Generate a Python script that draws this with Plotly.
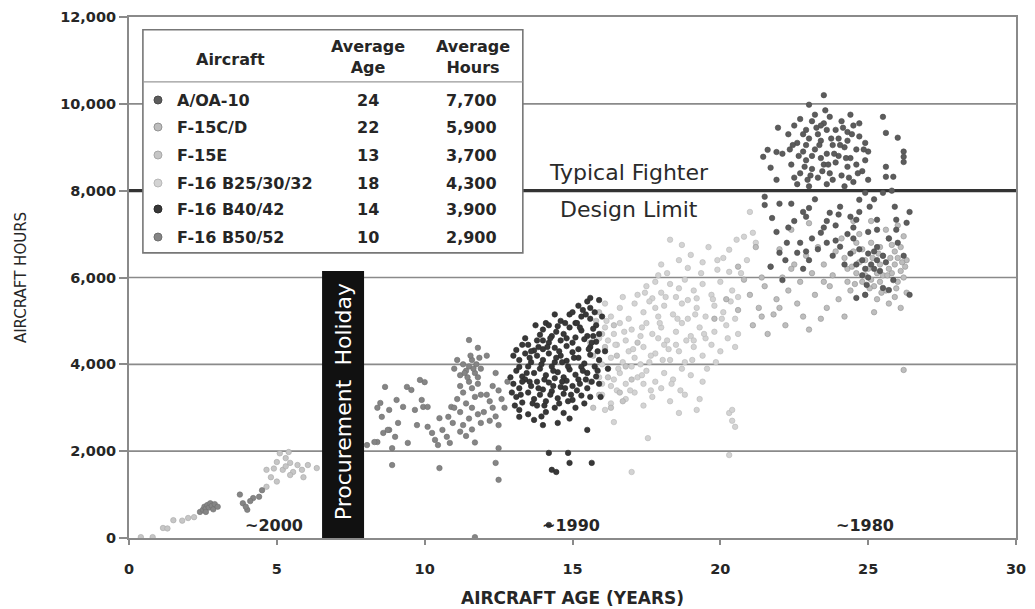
import plotly.graph_objects as go

# ---------------- data ----------------
AXIS_X_TICKS = [0, 5, 10, 15, 20, 25, 30]
AXIS_Y_TICKS = [0, 2000, 4000, 6000, 8000, 10000, 12000]
GRID_HOURS = [2000, 4000, 6000, 10000]
DESIGN_LIMIT = 8000

TABLE_AIRCRAFT = ["A/OA-10", "F-15C/D", "F-15E", "F-16 B25/30/32", "F-16 B40/42", "F-16 B50/52"]
TABLE_AGE = [24, 22, 13, 18, 14, 10]
TABLE_HOURS = [7700, 5900, 3700, 4300, 3900, 2900]

ERA_LABELS = ["~2000", "~1990", "~1980"]
ERA_AGES = [4.9, 14.95, 24.9]

A10_POINTS = [
    (23.5, 10200), (23.0, 9980), (25.5, 9700), (25.6, 9330), (26.0, 9220), (26.2, 8900), (26.2, 8780),
    (26.2, 8660), (21.45, 8780), (21.6, 8940), (21.9, 8890), (21.7, 8530), (21.9, 8250), (21.95, 9450),
    (25.6, 8550), (25.6, 8320), (25.85, 8320),
    (22.5, 9500), (22.7, 9650), (22.9, 9400), (23.1, 9600), (23.3, 9300), (23.5, 9550), (23.7, 9700),
    (23.9, 9400), (24.1, 9600), (24.3, 9350), (24.5, 9500), (24.7, 9250), (22.6, 9100), (22.8, 8900),
    (23.0, 9200), (23.2, 8950), (23.4, 9150), (23.6, 8850), (23.8, 9050), (24.0, 8800), (24.2, 9000),
    (24.4, 8750), (24.6, 8950), (24.9, 8700), (22.4, 8600), (22.7, 8400), (22.9, 8700), (23.1, 8500),
    (23.3, 8300), (23.5, 8600), (23.7, 8400), (23.9, 8650), (24.1, 8350), (24.3, 8550), (24.5, 8200),
    (24.8, 8450), (25.0, 8250), (22.6, 8150), (23.0, 8100), (23.6, 8150), (24.2, 8100), (23.2, 9750),
    (24.9, 9100), (22.3, 9300), (22.1, 8850), (24.4, 9750), (25.0, 8900), (22.5, 8300), (23.4, 8750),
    (24.0, 9200), (22.9, 9050), (23.6, 9400), (24.6, 8600), (23.1, 8800), (23.8, 8250), (24.7, 9550),
    (22.8, 9300), (23.4, 9500), (24.3, 9150),
    (22.45, 9050), (22.65, 8800), (22.85, 8550), (23.05, 8350), (23.25, 9450), (23.45, 8450),
    (23.65, 8600), (23.85, 8850), (24.05, 9050), (24.25, 8750), (24.45, 9300), (24.65, 8400),
    (24.85, 8950), (23.35, 9050), (23.75, 9200), (22.95, 8250), (24.35, 8300), (24.15, 9450),
    (22.35, 8950), (23.55, 9850),
    (21.5, 7860), (21.5, 7670), (21.75, 7370), (22.8, 7510), (22.9, 7400), (23.7, 7490), (24.05, 7630),
    (24.7, 7790), (24.7, 7510), (24.6, 7330), (25.05, 7630), (25.9, 7630), (26.4, 7510), (26.3, 7260),
    (25.95, 7330), (25.95, 7100), (25.3, 7330), (25.3, 7100), (22.25, 6800), (22.7, 6800), (23.4, 7030),
    (23.6, 6800), (24.05, 6710), (22.0, 6570), (22.6, 6570), (21.7, 6250), (23.0, 6400), (24.95, 5830),
    (24.9, 5600), (25.7, 5710), (26.4, 5600), (25.5, 5760), (24.6, 5530), (22.1, 5940), (25.85, 5940),
    (24.7, 6650), (24.8, 6400), (24.9, 6200), (25.0, 6550), (25.1, 6300), (25.2, 6600), (25.3, 6400),
    (25.4, 6150), (25.5, 6500), (24.8, 6050), (25.0, 6000), (25.2, 6200), (25.6, 6350), (24.6, 6300),
    (25.3, 6700), (23.2, 7800), (22.4, 7700), (23.9, 7200), (24.3, 7000), (23.1, 6900), (22.3, 7150),
    (24.5, 6900), (23.8, 6500), (22.8, 6200), (24.2, 6300), (21.9, 7050), (25.7, 6900), (26.0, 6800),
    (26.2, 6500), (24.4, 7400), (23.3, 6650), (22.0, 7700), (25.2, 7800), (23.6, 7300), (25.5, 7950),
    (25.8, 8000), (24.9, 7950),
    (22.5, 7300), (23.0, 7600), (23.5, 7150), (24.0, 7450), (24.5, 7150), (25.0, 7050), (22.9, 6600),
    (23.9, 6850), (22.2, 6400), (24.4, 6550),
]

F15CD_POINTS = [
    (20.8, 5950), (21.0, 5600), (21.3, 5300), (21.5, 5800), (21.7, 6250), (21.9, 5500), (22.1, 6000),
    (22.3, 5700), (22.5, 6300), (22.7, 5900), (22.9, 6500), (23.1, 6100), (23.3, 6700), (23.5, 6300),
    (23.7, 5800), (23.9, 6600), (24.1, 6900), (24.3, 6200), (24.5, 6600), (24.7, 7000), (24.9, 6400),
    (25.1, 6800), (25.3, 6100), (25.5, 6500), (25.7, 6900), (25.9, 6300), (26.1, 6700), (26.2, 6000),
    (24.4, 5700), (24.8, 5900), (25.2, 5800), (25.6, 5700), (26.0, 5900), (24.6, 6100), (25.0, 6200),
    (25.4, 6300), (25.8, 6100), (26.3, 6400), (24.2, 6450), (25.6, 7100), (26.0, 7200), (25.1, 7300),
    (24.0, 5500), (23.6, 5300), (22.8, 5100), (22.2, 4900), (21.6, 4700), (21.1, 4900), (20.6, 5250),
    (20.2, 5500), (19.8, 5050), (23.2, 5600), (22.6, 5400), (21.8, 5150), (23.0, 4800), (24.2, 5100),
    (25.2, 5200), (25.7, 5400), (26.1, 5300), (26.2, 3870), (22.0, 6650), (22.4, 7100), (23.0, 7250),
    (21.2, 6700), (20.6, 6250), (24.8, 6650), (25.4, 6700), (25.9, 6600), (26.2, 6950), (24.5, 7300),
    (25.3, 5500), (24.9, 5600), (26.3, 5650), (25.5, 6050), (24.7, 6350), (25.9, 5550), (23.8, 6050),
    (23.4, 5050), (22.0, 5300), (21.4, 5100), (25.1, 5950), (25.7, 6200), (26.1, 6150), (24.3, 5900),
    (25.4, 5900), (24.6, 6800), (25.8, 6750), (26.0, 6450),
    (24.9, 6050), (25.35, 6550), (25.75, 6450), (26.15, 6350), (24.55, 5850), (25.05, 5750),
    (25.45, 5650), (25.95, 5750), (24.45, 6250), (25.65, 6050), (26.25, 6250), (25.15, 6450),
    (23.5, 5900), (22.4, 6200), (21.4, 6000),
]

F15E_POINTS = [
    (0.4, 20), (0.8, 20), (1.15, 230), (1.3, 220), (1.5, 410), (1.8, 400), (2.0, 460), (2.2, 480),
    (4.65, 1180), (4.8, 1400), (5.0, 1300), (4.65, 1570), (5.0, 1750), (5.2, 1570), (5.3, 1840),
    (5.4, 1980), (5.45, 1730), (5.55, 1520), (5.7, 1680), (5.85, 1570), (5.9, 1400), (6.05, 1680),
    (6.35, 1610), (5.45, 1450), (5.1, 1950), (5.3, 1650), (4.9, 1600),
    (15.6, 4500), (15.7, 4200), (15.8, 3900), (15.6, 3600), (15.9, 3300), (15.7, 3000), (16.2, 3700),
    (16.5, 4200), (16.0, 4700), (15.8, 5000), (16.3, 3000), (16.6, 3350), (15.5, 3800), (16.1, 4400),
    (16.8, 3950), (17.2, 4500), (15.9, 5200), (16.4, 4900), (17.0, 3650), (16.7, 3150),
]

F16_B25_POINTS = [
    (18.3, 6870), (18.7, 6750), (20.3, 6640), (20.55, 6870), (20.8, 6940), (19.6, 6700), (21.0, 7510),
    (21.1, 7030), (21.2, 6800),
    (19.0, 6520), (18.6, 6400), (18.9, 6220), (19.9, 6400), (20.1, 6450), (20.9, 6400), (19.9, 6180),
    (20.3, 6130), (18.2, 6100), (19.4, 6350), (17.9, 6050),
    (17.2, 5600), (17.5, 5800), (17.8, 5900), (18.0, 5650), (18.3, 5850), (18.5, 5550), (18.8, 5950),
    (19.1, 5700), (19.4, 5850), (19.7, 5600), (20.0, 5900), (20.4, 5700), (18.6, 5750), (19.2, 5520),
    (17.7, 5520), (20.6, 5550),
    (16.3, 5100), (16.6, 5300), (16.9, 5050), (17.1, 5400), (17.4, 5200), (17.6, 5450), (17.9, 5100),
    (18.1, 5350), (18.4, 5150), (18.7, 5400), (18.9, 5050), (19.2, 5300), (19.5, 5100), (19.8, 5350),
    (20.1, 5200), (20.5, 5050), (16.1, 5400), (17.8, 5300), (18.9, 5480),
    (15.9, 4600), (16.1, 4850), (16.4, 4700), (16.6, 4950), (16.8, 4550), (17.0, 4800), (17.3, 4650),
    (17.5, 4950), (17.7, 4700), (18.0, 4850), (18.2, 4550), (18.5, 4750), (18.7, 4950), (19.0, 4650),
    (19.3, 4850), (19.5, 4600), (19.8, 4750), (20.2, 4900), (20.6, 4700), (16.2, 4550), (17.9, 4600),
    (19.1, 4550),
    (15.9, 4100), (16.1, 4350), (16.3, 4150), (16.5, 4450), (16.7, 4050), (16.9, 4300), (17.1, 4150),
    (17.4, 4400), (17.6, 4050), (17.8, 4250), (18.1, 4450), (18.3, 4100), (18.6, 4300), (18.8, 4050),
    (19.1, 4400), (19.4, 4200), (19.7, 4450), (20.0, 4300), (20.5, 4400), (16.0, 4000), (17.3, 4000),
    (18.5, 4450),
    (15.9, 3700), (16.0, 3550), (16.2, 3900), (16.4, 3650), (16.6, 3800), (16.8, 3550), (17.0, 3950),
    (17.2, 3700), (17.5, 3850), (17.8, 3600), (18.1, 3800), (18.4, 3650), (18.7, 3900), (19.0, 3750),
    (19.4, 3600), (16.3, 3500), (17.4, 3550),
    (16.0, 3300), (16.3, 3100), (16.5, 3400), (16.8, 3200), (17.1, 3350), (17.4, 3050), (17.7, 3250),
    (18.0, 3450), (18.3, 3150), (18.8, 3300), (19.3, 3200), (16.1, 2950),
    (16.4, 2670), (17.55, 2300), (17.0, 1520), (18.6, 2880), (20.3, 2880), (20.4, 2700), (20.5, 2560),
    (20.3, 1910), (20.4, 2950), (19.2, 2950),
    (16.15, 5000), (16.45, 4450), (16.75, 4750), (17.05, 4350), (17.35, 4850), (17.65, 4200),
    (17.95, 4950), (18.25, 4350), (18.55, 5050), (18.85, 4550), (19.15, 5150), (19.45, 4700),
    (19.75, 5500), (20.05, 5050), (20.35, 5450), (16.55, 3900), (16.95, 3400), (17.35, 3750),
    (17.65, 3400), (18.05, 4100), (18.35, 3550), (18.65, 3400), (19.05, 4100), (19.55, 3900),
    (19.85, 4050), (20.25, 4600), (18.15, 5550), (17.45, 5650), (19.35, 6100), (20.7, 6100),
    (16.7, 5550), (18.0, 6300),
]

F16_B40_POINTS = [
    (15.2, 5350), (15.5, 5450), (15.6, 5300), (15.9, 5480), (15.35, 5250), (15.75, 5200), (15.6, 5530),
    (14.6, 5000), (14.9, 5150), (15.1, 4950), (15.3, 5100), (15.6, 5050), (15.8, 4900), (14.1, 4950),
    (14.4, 5150), (15.0, 5200),
    (13.9, 4680), (14.0, 4800), (14.3, 4650), (14.5, 4880), (14.7, 4700), (14.9, 4850), (15.1, 4620),
    (15.3, 4780), (15.5, 4650), (15.7, 4820), (15.9, 4700), (14.2, 4900),
    (13.1, 4330), (13.5, 4450), (13.8, 4550), (14.0, 4350), (14.2, 4500), (14.4, 4380), (14.6, 4550),
    (14.8, 4420), (15.0, 4500), (15.2, 4350), (15.4, 4580), (15.6, 4400), (15.8, 4520), (13.7, 4320),
    (13.2, 4100), (13.4, 4250), (13.6, 4050), (13.8, 4200), (14.0, 4100), (14.2, 4250), (14.4, 4050),
    (14.6, 4200), (14.8, 4080), (15.0, 4280), (15.2, 4150), (15.4, 4020), (15.6, 4220), (15.9, 4100),
    (13.0, 4200),
    (13.1, 3850), (13.3, 3720), (13.5, 3950), (13.7, 3800), (13.9, 3900), (14.1, 3750), (14.3, 3950),
    (14.5, 3820), (14.7, 3700), (14.9, 3880), (15.1, 3760), (15.3, 3940), (15.5, 3800), (15.8, 3720),
    (13.2, 3940),
    (13.0, 3550), (13.2, 3450), (13.4, 3650), (13.6, 3500), (13.8, 3600), (14.0, 3420), (14.2, 3580),
    (14.4, 3680), (14.6, 3480), (14.8, 3620), (15.0, 3500), (15.2, 3650), (15.5, 3450), (15.9, 3550),
    (13.1, 3250), (13.3, 3120), (13.5, 3350), (13.7, 3200), (13.9, 3300), (14.1, 3150), (14.3, 3380),
    (14.5, 3220), (14.7, 3320), (15.0, 3180), (15.3, 3280),
    (13.2, 2950), (13.5, 2850), (13.8, 3050), (14.1, 2900), (14.4, 3000), (14.7, 2880), (15.1, 3000),
    (13.2, 2790), (13.7, 2720), (14.0, 2600), (15.5, 2490),
    (14.2, 1960), (14.85, 1960), (14.9, 1730), (15.65, 1730), (14.3, 1570), (14.45, 1520), (14.2, 300),
    (14.25, 4600), (14.75, 4950), (15.25, 4850), (14.55, 4300), (15.05, 4150), (14.35, 3850),
    (14.85, 3950), (13.45, 3800), (14.65, 3600), (15.15, 3400), (13.85, 3450), (14.25, 3300),
    (15.45, 3650), (15.75, 3950), (15.7, 4650), (14.0, 4550), (13.6, 4300), (13.3, 3600),
    (12.9, 3700), (12.95, 3350), (13.05, 3050), (16.1, 4300), (16.2, 3900), (16.0, 5100),
    (15.95, 3250), (15.4, 3100), (14.9, 2750), (14.5, 2650), (13.4, 4600), (13.75, 4900),
    (13.3, 4450), (13.55, 4150), (13.95, 4000), (14.15, 4400), (14.45, 4750), (14.8, 4600),
    (15.15, 4950), (15.45, 5150), (15.65, 4500), (15.85, 4300), (14.05, 3650), (14.35, 3500),
    (14.75, 3450), (15.25, 3550), (15.65, 3600), (13.65, 3100), (13.95, 2800), (14.55, 3100),
    (14.95, 3300), (15.35, 3850), (15.85, 3850), (13.25, 3300), (13.85, 4400), (14.65, 4050),
    (15.55, 4350), (14.05, 3050), (14.85, 3150), (15.6, 3250), (13.55, 3600), (14.45, 4150),
]

F16_B50_POINTS = [
    (2.4, 600), (2.5, 650), (2.55, 720), (2.6, 680), (2.65, 760), (2.7, 700), (2.75, 800), (2.8, 740),
    (2.85, 660), (2.9, 780), (3.0, 720), (2.6, 600), (3.75, 1000), (3.85, 800), (4.0, 650), (4.2, 920),
    (4.4, 950), (4.5, 1100), (4.1, 850), (3.95, 720),
    (8.05, 2140), (8.4, 2210), (8.6, 2420), (8.8, 2490), (8.9, 2070), (8.9, 1680), (10.5, 1610),
    (12.4, 1730), (12.5, 1340), (11.7, 20), (12.5, 2070),
    (8.66, 3480), (8.5, 3110), (8.4, 3000), (8.55, 2790), (8.3, 2210), (9.05, 3180), (8.8, 2950),
    (8.75, 2490), (9.0, 2330), (9.1, 2650), (9.4, 3480), (9.55, 3410), (9.27, 3020), (9.43, 2190),
    (9.74, 2600), (9.84, 3640), (10.0, 3590), (9.9, 3180), (9.95, 3020), (10.1, 3020), (9.67, 2950),
    (10.1, 2560), (10.25, 2420), (10.35, 2260), (10.45, 2140), (10.5, 2760), (10.6, 2490),
    (10.75, 2330), (10.85, 2190), (10.9, 3020), (10.95, 2650), (10.8, 2790),
    (11.0, 3900), (11.1, 4100), (11.2, 3750), (11.3, 4000), (11.4, 3850), (11.5, 3950), (11.6, 4100),
    (11.7, 3800), (11.8, 3700), (11.9, 3900), (11.2, 3500), (11.3, 3350), (11.5, 3600), (11.6, 3450),
    (11.8, 3550), (11.9, 3300), (11.1, 3200), (11.4, 3100), (11.6, 3000), (11.7, 3250), (11.0, 3000),
    (11.2, 2900), (11.5, 2750), (11.8, 2850), (11.3, 2600), (11.6, 2500), (11.4, 2350), (11.7, 2200),
    (11.2, 2450), (11.9, 2650), (12.1, 3300), (12.2, 3150), (12.3, 3000), (12.0, 2900), (12.4, 2800),
    (12.3, 3500), (12.5, 3400), (12.6, 3200), (12.7, 3000), (12.2, 2700), (12.5, 2600), (11.5, 4560),
    (11.8, 4380), (12.1, 4200), (12.4, 3800), (12.8, 3600), (11.45, 3700), (11.65, 3900), (11.75, 4000),
    (11.35, 3800), (11.55, 4200), (11.85, 4150),
]

# ---------------- figure ----------------
FONT = "DejaVu Sans"
TEXT = "#262626"

groups = [
    ("F-16 B25/30/32", F16_B25_POINTS, "#d3d3d3", "#b8b8b8"),
    ("F-15E", F15E_POINTS, "#c6c6c6", "#a8a8a8"),
    ("F-15C/D", F15CD_POINTS, "#bdbdbd", "#939393"),
    ("F-16 B50/52", F16_B50_POINTS, "#858585", "#6e6e6e"),
    ("A/OA-10", A10_POINTS, "#5c5c5c", "#4a4a4a"),
    ("F-16 B40/42", F16_B40_POINTS, "#383838", "#2a2a2a"),
]
legend_style = {name: (fill, edge) for name, _, fill, edge in groups}

fig = go.Figure()

shapes = []
for h in GRID_HOURS:
    shapes.append(dict(type="line", xref="x", yref="y", x0=0, x1=30, y0=h, y1=h,
                       line=dict(color="#8a8a8a", width=1.6), layer="below"))
shapes.append(dict(type="line", xref="x", yref="y", x0=0, x1=30, y0=DESIGN_LIMIT, y1=DESIGN_LIMIT,
                   line=dict(color="#333333", width=3.2), layer="below"))
# table box
shapes.append(dict(type="rect", xref="x", yref="y", x0=0.47, x1=13.32, y0=6567, y1=11705,
                   fillcolor="white", line=dict(color="#777777", width=1.6), layer="below"))
shapes.append(dict(type="line", xref="x", yref="y", x0=0.47, x1=13.32, y0=10507, y1=10507,
                   line=dict(color="#999999", width=1.2), layer="below"))
# procurement holiday bar
shapes.append(dict(type="rect", xref="x", yref="y", x0=6.53, x1=7.95, y0=0, y1=6150,
                   fillcolor="#111111", line=dict(width=0), layer="below"))

for name, pts, fill, edge in groups:
    fig.add_trace(go.Scatter(
        x=[p[0] for p in pts], y=[p[1] for p in pts], mode="markers", name=name,
        marker=dict(size=5.5, color=fill, line=dict(color=edge, width=0.6)),
        hoverinfo="skip", showlegend=False))

row_y = [10088, 9466, 8821, 8176, 7577, 6932]
fig.add_trace(go.Scatter(
    x=[0.98] * len(TABLE_AIRCRAFT), y=row_y, mode="markers",
    marker=dict(size=8, color=[legend_style[a][0] for a in TABLE_AIRCRAFT],
                line=dict(color=[legend_style[a][1] for a in TABLE_AIRCRAFT], width=1)),
    hoverinfo="skip", showlegend=False))

ann = []
tfont = dict(family=FONT, size=16, color=TEXT)
ann.append(dict(x=3.42, y=11014, text="<b>Aircraft</b>", showarrow=False, font=tfont))
ann.append(dict(x=8.08, y=11071, text="<b>Average<br>Age</b>", showarrow=False, font=tfont))
ann.append(dict(x=11.63, y=11071, text="<b>Average<br>Hours</b>", showarrow=False, font=tfont))
for a, g, h, yy in zip(TABLE_AIRCRAFT, TABLE_AGE, TABLE_HOURS, row_y):
    ann.append(dict(x=1.56, y=yy, text=f"<b>{a}</b>", showarrow=False, xanchor="left", font=tfont))
    ann.append(dict(x=8.08, y=yy, text=f"<b>{g}</b>", showarrow=False, font=tfont))
    ann.append(dict(x=12.51, y=yy, text=f"<b>{h:,}</b>", showarrow=False, xanchor="right", font=tfont))

ann.append(dict(x=16.9, y=8430, text="Typical Fighter", showarrow=False,
                font=dict(family=FONT, size=22, color="#2a2a2a")))
ann.append(dict(x=16.9, y=7560, text="Design Limit", showarrow=False,
                font=dict(family=FONT, size=22, color="#2a2a2a")))
ann.append(dict(x=7.24, y=3130, text="Procurement  Holiday", showarrow=False, textangle=-90,
                font=dict(family=FONT, size=22, color="white")))
for lab, ag in zip(ERA_LABELS, ERA_AGES):
    ann.append(dict(x=ag, y=290, text=f"<b>{lab}</b>", showarrow=False,
                    font=dict(family=FONT, size=16, color=TEXT)))

# the page body adds an 8px offset; margins compensate so the plot area lands at 129..1016 x 17..538
fig.update_layout(
    width=1035, height=609,
    margin=dict(l=121, r=27, t=9, b=79),
    paper_bgcolor="white", plot_bgcolor="white",
    shapes=shapes, annotations=ann,
    xaxis=dict(range=[0, 30], tickvals=AXIS_X_TICKS, showgrid=False, zeroline=False, automargin=False,
               showline=True, linecolor="#8a8a8a", linewidth=2, mirror=True,
               ticks="outside", ticklen=5, tickcolor="#8a8a8a", tickwidth=1.5,
               ticklabelstandoff=12,
               tickfont=dict(family=FONT, size=14.5, color=TEXT, weight="bold"),
               title=dict(text="<b>AIRCRAFT AGE (YEARS)</b>", standoff=16,
                          font=dict(family=FONT, size=17, color=TEXT))),
    yaxis=dict(range=[0, 12000], tickvals=AXIS_Y_TICKS, tickformat=",", showgrid=False, zeroline=False,
               automargin=False,
               showline=True, linecolor="#8a8a8a", linewidth=2, mirror=True,
               ticks="outside", ticklen=8, tickcolor="#8a8a8a", tickwidth=1.5,
               tickfont=dict(family=FONT, size=14.5, color=TEXT, weight="bold"),
               title=dict(text="AIRCRAFT HOURS", standoff=30,
                          font=dict(family=FONT, size=15, color=TEXT))),
)

fig.write_html("out.html")
